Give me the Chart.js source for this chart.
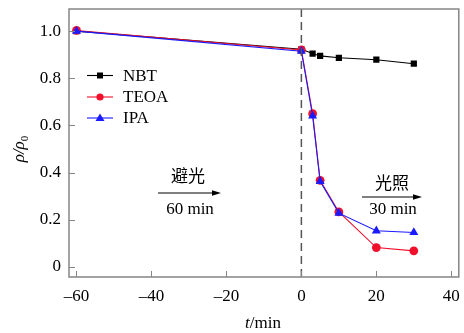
<!DOCTYPE html>
<html lang="zh">
<head>
    <meta charset="UTF-8">
    <title>rho/rho0 vs t</title>
    <script src="https://cdn.jsdelivr.net/npm/chart.js"></script>
    <style>
        body { margin: 0; background: #fff; }
        .wrap { width: 464px; height: 333px; }
    </style>
</head>
<body>
    <div class="wrap"><canvas id="chart"></canvas></div>
    <script>
        // data
        const tNBT = [-60, 0, 3, 5, 10, 20, 30];
        const vNBT = [1.0, 0.923, 0.905, 0.895, 0.887, 0.879, 0.862];
        const tTEOA = [-60, 0, 3, 5, 10, 20, 30];
        const vTEOA = [1.003, 0.92, 0.65, 0.367, 0.233, 0.082, 0.068];
        const tIPA = [-60, 0, 3, 5, 10, 20, 30];
        const vIPA = [1.0, 0.915, 0.64, 0.363, 0.228, 0.153, 0.146];
        const xTicks = [-60, -40, -20, 0, 20, 40];
        const yTicks = [0, 0.2, 0.4, 0.6, 0.8, 1.0];

        const serif = '"Liberation Serif", "Times New Roman", serif';
        const cjk = '"Noto Sans CJK SC", sans-serif';
        const axisColor = '#858585';

        const pts = (xs, ys) => xs.map((x, i) => ({ x: x, y: ys[i] }));

        const series = [
            { label: 'NBT', data: pts(tNBT, vNBT), borderColor: '#000', backgroundColor: '#000',
              pointStyle: 'rect', pointRadius: 4.4, order: 3 },
            { label: 'TEOA', data: pts(tTEOA, vTEOA), borderColor: '#f0102c', backgroundColor: '#f0102c',
              pointStyle: 'circle', pointRadius: 4.4, order: 2 },
            { label: 'IPA', data: pts(tIPA, vIPA), borderColor: '#1a1aff', backgroundColor: '#1a1aff',
              pointStyle: 'triangle', pointRadius: 5.2, order: 1 }
        ];
        series.forEach(s => { s.borderWidth = 1.1; s.pointBorderWidth = 0; s.tension = 0; });

        function arrow(ctx, x1, x2, y) {
            ctx.strokeStyle = '#000';
            ctx.lineWidth = 1.2;
            ctx.beginPath(); ctx.moveTo(x1, y); ctx.lineTo(x2 - 6, y); ctx.stroke();
            ctx.fillStyle = '#000';
            ctx.beginPath(); ctx.moveTo(x2, y); ctx.lineTo(x2 - 9, y - 2.8); ctx.lineTo(x2 - 9, y + 2.8); ctx.closePath(); ctx.fill();
        }

        const extras = {
            id: 'extras',
            afterDatasetsDraw(chart) {
                const ctx = chart.ctx, a = chart.chartArea;
                const xs = chart.scales.x, ys = chart.scales.y;
                ctx.save();

                // dashed line at t = 0
                const x0 = xs.getPixelForValue(0);
                ctx.strokeStyle = '#555';
                ctx.lineWidth = 1.5;
                ctx.setLineDash([8, 5]);
                ctx.beginPath(); ctx.moveTo(x0, a.top); ctx.lineTo(x0, a.bottom); ctx.stroke();
                ctx.setLineDash([]);

                // frame + inward ticks
                ctx.strokeStyle = axisColor;
                ctx.lineWidth = 1.5;
                ctx.strokeRect(a.left, a.top, a.right - a.left, a.bottom - a.top);
                ctx.lineWidth = 1;
                ctx.beginPath();
                xTicks.forEach(v => {
                    const p = Math.round(xs.getPixelForValue(v)) + 0.5;
                    ctx.moveTo(p, a.bottom); ctx.lineTo(p, a.bottom - 6);
                });
                yTicks.forEach(v => {
                    const p = Math.round(ys.getPixelForValue(v)) + 0.5;
                    ctx.moveTo(a.left, p); ctx.lineTo(a.left + 6, p);
                });
                ctx.stroke();

                // legend
                ctx.textBaseline = 'middle';
                ctx.textAlign = 'left';
                ctx.font = '17px ' + serif;
                const legY = [75.5, 97, 118];
                series.forEach((s, i) => {
                    const y = legY[i];
                    ctx.strokeStyle = s.borderColor;
                    ctx.lineWidth = 1.1;
                    ctx.beginPath(); ctx.moveTo(87, y); ctx.lineTo(113, y); ctx.stroke();
                    ctx.fillStyle = s.backgroundColor;
                    ctx.beginPath();
                    if (s.pointStyle === 'rect') ctx.rect(97, y - 3, 6, 6);
                    else if (s.pointStyle === 'circle') ctx.arc(100, y, 3.6, 0, Math.PI * 2);
                    else { ctx.moveTo(100, y - 4.5); ctx.lineTo(104.5, y + 3); ctx.lineTo(95.5, y + 3); ctx.closePath(); }
                    ctx.fill();
                    ctx.fillStyle = '#000';
                    ctx.fillText(s.label, 123, y + 1);
                });

                // annotations
                ctx.textAlign = 'center';
                ctx.fillStyle = '#000';
                ctx.font = '17px ' + cjk;
                ctx.fillText('避光', 188, 176);
                ctx.fillText('光照', 392, 183);
                ctx.font = '17px ' + serif;
                ctx.fillText('60 min', 190, 210);
                ctx.fillText('30 min', 393, 210);
                arrow(ctx, 158, 221, 193);
                arrow(ctx, 362, 422, 197);

                // x title: t/min
                ctx.textAlign = 'left';
                ctx.font = 'italic 17px ' + serif;
                const wt = ctx.measureText('t').width;
                ctx.font = '17px ' + serif;
                const wm = ctx.measureText('/min').width;
                let sx = 263 - (wt + wm) / 2;
                ctx.font = 'italic 17px ' + serif;
                ctx.fillText('t', sx, 324);
                ctx.font = '17px ' + serif;
                ctx.fillText('/min', sx + wt, 324);

                // y title: rho/rho0, rotated
                ctx.translate(20, 149);
                ctx.rotate(-Math.PI / 2);
                ctx.font = 'italic 17px ' + serif;
                const w1 = ctx.measureText('ρ/ρ').width;
                ctx.font = '11px ' + serif;
                const w2 = ctx.measureText('0').width;
                sx = -(w1 + w2) / 2;
                ctx.font = 'italic 17px ' + serif;
                ctx.fillText('ρ/ρ', sx, 0);
                ctx.font = '11px ' + serif;
                ctx.fillText('0', sx + w1, 5);

                ctx.restore();
            }
        };

        new Chart(document.getElementById('chart'), {
            type: 'line',
            data: { datasets: series },
            options: {
                responsive: true,
                maintainAspectRatio: false,
                animation: false,
                layout: { padding: { top: 9, right: 3, left: 0, bottom: 0 } },
                plugins: { legend: { display: false }, tooltip: { enabled: false } },
                scales: {
                    x: {
                        type: 'linear', min: -62, max: 42,
                        afterBuildTicks: s => { s.ticks = xTicks.map(v => ({ value: v })); },
                        afterFit: s => { s.height = 56; s.paddingLeft = 0; s.paddingRight = 0; },
                        grid: { display: false, drawTicks: false },
                        border: { display: false },
                        ticks: {
                            color: '#000', padding: 9, maxRotation: 0,
                            font: { family: serif, size: 17 },
                            callback: v => String(v).replace('-', '\u2013')
                        }
                    },
                    y: {
                        type: 'linear', min: -0.043, max: 1.094,
                        afterBuildTicks: s => { s.ticks = yTicks.map(v => ({ value: v })); },
                        afterFit: s => { s.width = 69; s.paddingTop = 0; s.paddingBottom = 0; },
                        grid: { display: false, drawTicks: false },
                        border: { display: false },
                        ticks: {
                            color: '#000', padding: 8,
                            font: { family: serif, size: 17 },
                            callback: v => v === 0 ? '0' : v.toFixed(1)
                        }
                    }
                }
            },
            plugins: [extras]
        });
    </script>
</body>
</html>
